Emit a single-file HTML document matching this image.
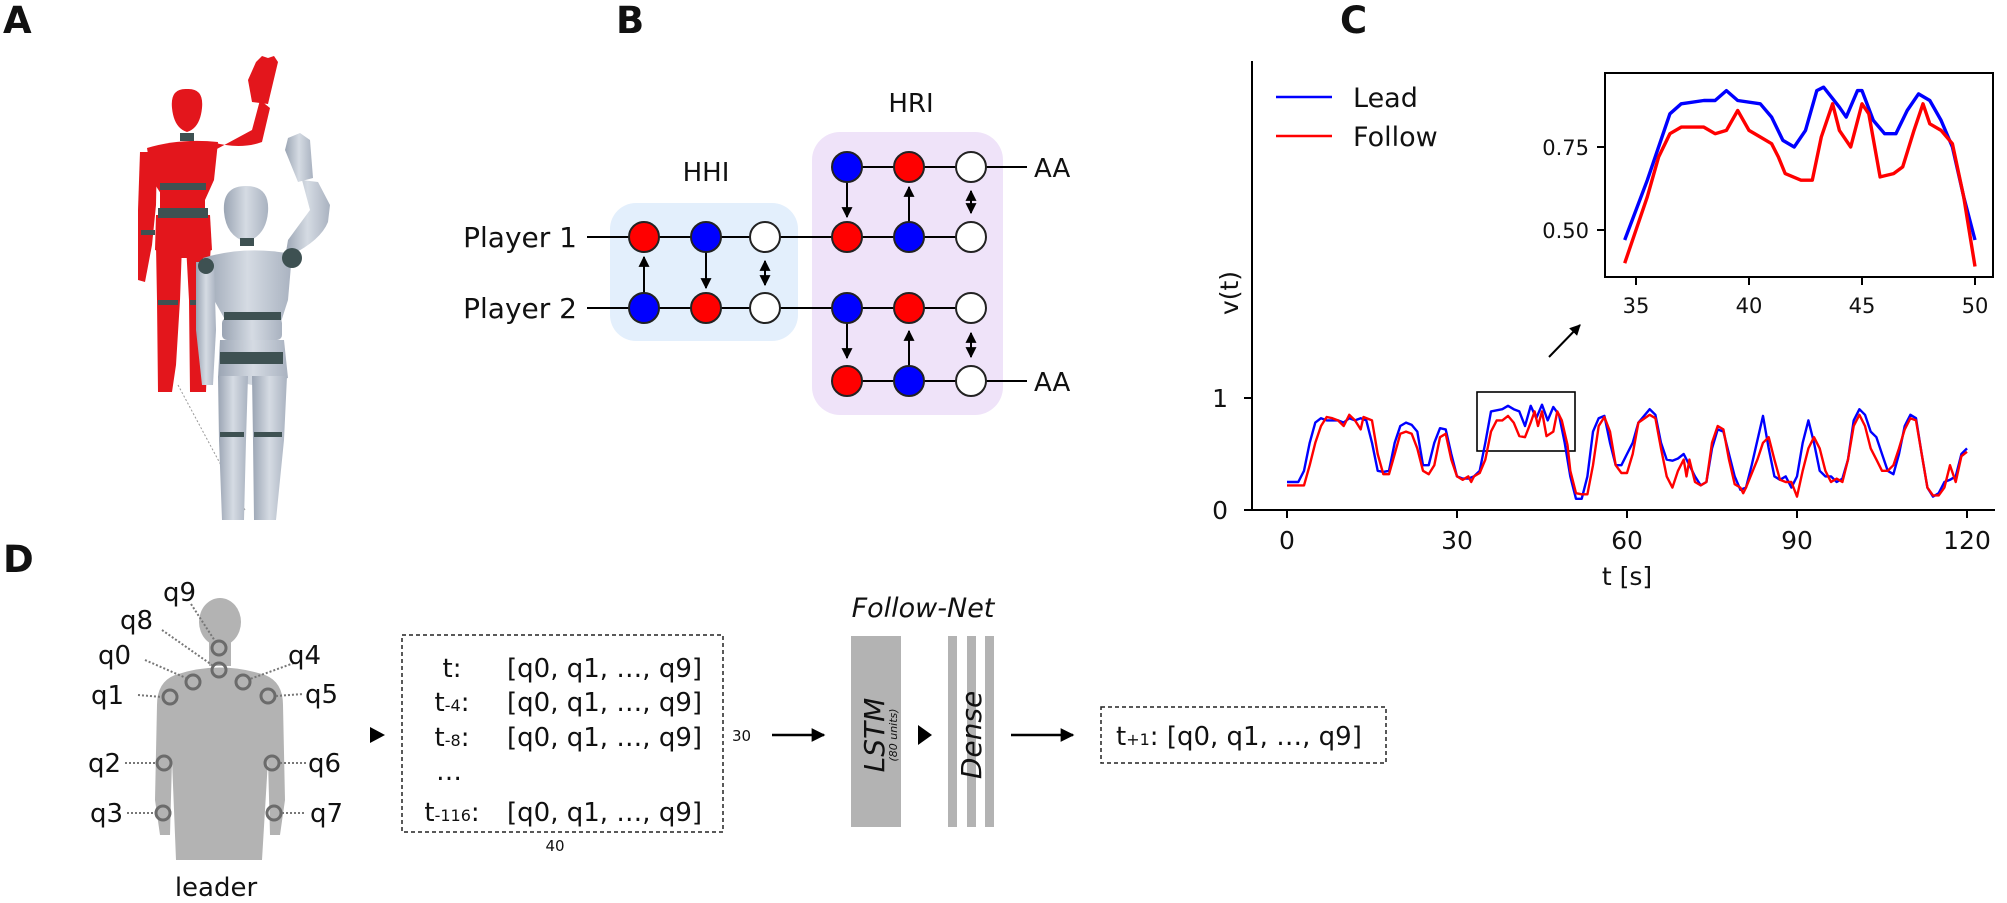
<!DOCTYPE html>
<html><head><meta charset="utf-8"><style>
html,body{margin:0;padding:0;background:#fff;}
svg{display:block;}
text{font-family:"DejaVu Sans","Liberation Sans",sans-serif;fill:#111;}
</style></head><body>
<svg id="s" width="2007" height="903" viewBox="0 0 2007 903" xmlns="http://www.w3.org/2000/svg">
<defs>
<marker id="ah" viewBox="0 0 10 10" refX="9" refY="5" markerWidth="5.5" markerHeight="5.5" orient="auto-start-reverse"><path d="M0,0L10,5L0,10z" fill="#000"/></marker>
<linearGradient id="gg" x1="0" x2="1"><stop offset="0" stop-color="#9aa4b3"/><stop offset="0.5" stop-color="#d5dbe3"/><stop offset="1" stop-color="#a9b2c0"/></linearGradient>
</defs>
<g font-weight="bold" font-size="37">
<text x="3" y="33">A</text>
<text x="616" y="33">B</text>
<text x="1340" y="33">C</text>
<text x="3" y="572">D</text>
</g>

<!-- Panel A figures -->
<g>
<line x1="178" y1="385" x2="245" y2="510" stroke="#999" stroke-dasharray="2,2"/>
<g fill="#e3161c">
<path d="M172,108 Q170,88 187,89 Q204,88 202,108 Q200,128 187,132 Q174,128 172,108Z"/>
<path d="M147,148 Q180,138 218,142 L214,180 L205,200 L165,200 L152,180Z"/>
<rect x="160" y="188" width="45" height="25" rx="4"/>
<path d="M156,215 L210,215 L212,250 L190,258 L180,258 L155,250Z"/>
<path d="M156,245 L182,245 L180,300 L176,365 L172,392 L158,392 L157,300Z"/>
<path d="M186,245 L211,245 L207,300 L207,365 L206,392 L190,392 L189,300Z"/>
<path d="M140,152 L157,152 L156,205 L152,245 L145,282 L138,280 L138,210Z"/>
<path d="M212,142 Q240,150 262,142 L270,108 L260,100 L252,130 L215,150Z"/>
<path d="M252,102 L268,104 L278,62 L274,56 L268,58 L262,56 L256,62 L248,80Z"/>
</g>
<g fill="#3e5152">
<rect x="180" y="133" width="14" height="8"/>
<rect x="160" y="183" width="46" height="7"/>
<rect x="158" y="208" width="50" height="10"/>
<rect x="141" y="230" width="14" height="5"/>
<rect x="158" y="300" width="20" height="5"/><rect x="190" y="300" width="18" height="5"/>
</g>
<g fill="url(#gg)">
<path d="M224,212 Q222,186 246,186 Q270,186 268,212 Q266,236 246,242 Q226,236 224,212Z"/>
<path d="M203,258 Q245,245 292,254 L288,300 L280,325 L228,325 L214,300Z"/>
<rect x="222" y="318" width="60" height="22" rx="5"/>
<path d="M220,340 L284,340 L288,378 L252,385 L218,378Z"/>
<path d="M218,376 L248,376 L246,440 L244,520 L222,520 L219,440Z"/>
<path d="M252,376 L287,376 L284,440 L276,520 L254,520 L253,440Z"/>
<path d="M196,262 L214,262 L216,330 L213,385 L202,385 L196,330Z"/>
<path d="M285,258 Q320,242 328,222 L330,205 L318,182 L302,180 L310,210 L288,240Z"/>
<path d="M298,182 L313,178 L310,140 L300,133 L288,138 L285,150Z"/>
</g>
<g fill="#3e5152">
<rect x="240" y="238" width="14" height="8"/>
<rect x="224" y="312" width="57" height="8"/>
<rect x="220" y="352" width="63" height="12"/>
<circle cx="292" cy="258" r="10"/>
<circle cx="206" cy="266" r="8"/>
<rect x="220" y="432" width="24" height="5"/><rect x="254" y="432" width="28" height="5"/>
</g>
</g>

<!-- Panel B -->
<g>
<rect x="610" y="203" width="188" height="138" rx="26" fill="#e3effc"/>
<rect x="812" y="132" width="191" height="283" rx="28" fill="#efe3f9"/>
<g font-size="26" text-anchor="middle"><text x="706" y="181">HHI</text><text x="911" y="112">HRI</text></g>
<g font-size="28" text-anchor="end"><text x="577" y="247">Player 1</text><text x="577" y="318">Player 2</text></g>
<g stroke="#000" stroke-width="2">
<line x1="587" y1="237" x2="971" y2="237"/>
<line x1="587" y1="308" x2="971" y2="308"/>
<line x1="847" y1="167" x2="1027" y2="167"/>
<line x1="847" y1="381" x2="1027" y2="381"/>
</g>
<g font-size="26"><text x="1034" y="177">AA</text><text x="1034" y="391">AA</text></g>
<g stroke="#000" stroke-width="2" marker-end="url(#ah)">
<line x1="644" y1="293" x2="644" y2="257"/>
<line x1="706" y1="252" x2="706" y2="288"/>
<line x1="847" y1="182" x2="847" y2="217"/>
<line x1="909" y1="222" x2="909" y2="187"/>
<line x1="847" y1="323" x2="847" y2="358"/>
<line x1="909" y1="366" x2="909" y2="331"/>
</g>
<g stroke="#000" stroke-width="2" marker-end="url(#ah)" marker-start="url(#ah)">
<line x1="765" y1="261" x2="765" y2="285"/>
<line x1="971" y1="191" x2="971" y2="213"/>
<line x1="971" y1="333" x2="971" y2="357"/>
</g>
<g stroke="#222" stroke-width="2">
<circle cx="644" cy="237" r="15" fill="#f00"/><circle cx="706" cy="237" r="15" fill="#00f"/><circle cx="765" cy="237" r="15" fill="#fff"/>
<circle cx="644" cy="308" r="15" fill="#00f"/><circle cx="706" cy="308" r="15" fill="#f00"/><circle cx="765" cy="308" r="15" fill="#fff"/>
<circle cx="847" cy="167" r="15" fill="#00f"/><circle cx="909" cy="167" r="15" fill="#f00"/><circle cx="971" cy="167" r="15" fill="#fff"/>
<circle cx="847" cy="237" r="15" fill="#f00"/><circle cx="909" cy="237" r="15" fill="#00f"/><circle cx="971" cy="237" r="15" fill="#fff"/>
<circle cx="847" cy="308" r="15" fill="#00f"/><circle cx="909" cy="308" r="15" fill="#f00"/><circle cx="971" cy="308" r="15" fill="#fff"/>
<circle cx="847" cy="381" r="15" fill="#f00"/><circle cx="909" cy="381" r="15" fill="#00f"/><circle cx="971" cy="381" r="15" fill="#fff"/>
</g>
</g>

<!-- Panel C -->
<g id="pc">
<g stroke="#000" stroke-width="2" fill="none">
<line x1="1252" y1="61" x2="1252" y2="511"/>
<line x1="1251" y1="510" x2="1995" y2="510"/>
<line x1="1244" y1="398" x2="1252" y2="398"/>
<line x1="1244" y1="510" x2="1252" y2="510"/>
<line x1="1287" y1="510" x2="1287" y2="518"/><line x1="1457" y1="510" x2="1457" y2="518"/><line x1="1627" y1="510" x2="1627" y2="518"/><line x1="1797" y1="510" x2="1797" y2="518"/><line x1="1967" y1="510" x2="1967" y2="518"/>
<rect x="1477" y="392" width="98" height="59" stroke-width="1.6"/>
<rect x="1605" y="73" width="388" height="204"/>
<line x1="1597" y1="147" x2="1605" y2="147"/><line x1="1597" y1="230" x2="1605" y2="230"/>
<line x1="1636" y1="277" x2="1636" y2="285"/><line x1="1749" y1="277" x2="1749" y2="285"/><line x1="1862" y1="277" x2="1862" y2="285"/><line x1="1975" y1="277" x2="1975" y2="285"/>
</g>
<line x1="1549" y1="357" x2="1580" y2="325" stroke="#000" stroke-width="2" marker-end="url(#ah)"/>
<g font-size="25" text-anchor="middle">
<text x="1287" y="549">0</text><text x="1457" y="549">30</text><text x="1627" y="549">60</text><text x="1797" y="549">90</text><text x="1967" y="549">120</text>
<text x="1627" y="585">t [s]</text>
<text x="1228" y="407" text-anchor="end">1</text><text x="1228" y="519" text-anchor="end">0</text>
<text transform="translate(1238,293) rotate(-90)">v(t)</text>
</g>
<g font-size="21" text-anchor="middle">
<text x="1636" y="313">35</text><text x="1749" y="313">40</text><text x="1862" y="313">45</text><text x="1975" y="313">50</text>
<text x="1589" y="155" text-anchor="end">0.75</text><text x="1589" y="238" text-anchor="end">0.50</text>
</g>
<line x1="1276" y1="97" x2="1332" y2="97" stroke="#00f" stroke-width="2.5"/>
<line x1="1276" y1="136" x2="1332" y2="136" stroke="#f00" stroke-width="2.5"/>
<g font-size="27"><text x="1353" y="107">Lead</text><text x="1353" y="146">Follow</text></g>
<path id="mL" fill="none" stroke="#00f" stroke-width="2.4" stroke-linejoin="round"/>
<path id="mF" fill="none" stroke="#f00" stroke-width="2.4" stroke-linejoin="round"/>
<path id="iL" fill="none" stroke="#00f" stroke-width="3.4" stroke-linejoin="round"/>
<path id="iF" fill="none" stroke="#f00" stroke-width="3.4" stroke-linejoin="round"/>
</g>

<!-- Panel D -->
<g>
<g fill="#b3b3b3">
<ellipse cx="220" cy="622" rx="21" ry="24"/>
<rect x="209" y="640" width="22" height="26"/>
<path d="M175,675 Q219,660 265,675 Q283,682 283,705 L285,800 L280,835 L270,835 L268,760 L262,860 L176,860 L172,760 L170,835 L160,835 L155,800 L157,705 Q157,682 175,675 Z"/>
</g>
<g fill="none" stroke="#6b6b6b" stroke-width="3">
<circle cx="219" cy="648" r="7"/><circle cx="219" cy="670" r="7"/><circle cx="193" cy="682" r="7"/><circle cx="243" cy="682" r="7"/>
<circle cx="170" cy="697" r="7"/><circle cx="268" cy="696" r="7"/><circle cx="164" cy="763" r="7"/><circle cx="272" cy="763" r="7"/>
<circle cx="163" cy="813" r="7"/><circle cx="274" cy="813" r="7"/>
</g>
<g stroke="#777" stroke-width="2" stroke-dasharray="2,2">
<line x1="191" y1="604" x2="215" y2="641"/><line x1="162" y1="630" x2="212" y2="665"/><line x1="145" y1="660" x2="186" y2="678"/>
<line x1="294" y1="663" x2="250" y2="679"/><line x1="138" y1="695" x2="162" y2="697"/><line x1="276" y1="696" x2="303" y2="694"/>
<line x1="125" y1="763" x2="156" y2="763"/><line x1="280" y1="763" x2="306" y2="763"/>
<line x1="127" y1="813" x2="155" y2="813"/><line x1="282" y1="813" x2="306" y2="813"/>
</g>
<g font-size="26">
<text x="163" y="601">q9</text><text x="120" y="629">q8</text><text x="98" y="664">q0</text><text x="288" y="664">q4</text>
<text x="91" y="704">q1</text><text x="305" y="703">q5</text><text x="88" y="772">q2</text><text x="308" y="772">q6</text>
<text x="90" y="822">q3</text><text x="310" y="822">q7</text>
<text x="216" y="896" text-anchor="middle">leader</text>
</g>
<polygon points="370,727 385,735 370,743" fill="#000"/>
<rect x="402" y="635" width="321" height="197" fill="none" stroke="#222" stroke-width="1.5" stroke-dasharray="4,3"/>
<g font-size="26">
<text x="452" y="677" text-anchor="middle">t:</text>
<text x="452" y="711" text-anchor="middle">t<tspan font-size="16">-4</tspan>:</text>
<text x="452" y="746" text-anchor="middle">t<tspan font-size="16">-8</tspan>:</text>
<text x="449" y="780" text-anchor="middle">…</text>
<text x="452" y="821" text-anchor="middle">t<tspan font-size="16">-116</tspan>:</text>
<text x="507" y="677">[q0, q1, …, q9]</text>
<text x="507" y="711">[q0, q1, …, q9]</text>
<text x="507" y="746">[q0, q1, …, q9]</text>
<text x="507" y="821">[q0, q1, …, q9]</text>
</g>
<g font-size="15"><text x="555" y="851" text-anchor="middle">40</text><text x="732" y="741">30</text></g>
<line x1="772" y1="735" x2="824" y2="735" stroke="#000" stroke-width="2.5" marker-end="url(#ah)"/>
<rect x="851" y="636" width="50" height="191" fill="#b3b3b3"/>
<text transform="translate(884,735) rotate(-90)" font-size="28" font-style="italic" text-anchor="middle">LSTM</text>
<text transform="translate(897,735) rotate(-90)" font-size="11" font-style="italic" text-anchor="middle">(80 units)</text>
<polygon points="918,725 932,735 918,745" fill="#000"/>
<rect x="948" y="636" width="9" height="191" fill="#b3b3b3"/>
<rect x="967" y="636" width="9" height="191" fill="#b3b3b3"/>
<rect x="985" y="636" width="9" height="191" fill="#b3b3b3"/>
<text transform="translate(981,735) rotate(-90)" font-size="28" font-style="italic" text-anchor="middle">Dense</text>
<text x="923" y="617" font-size="27" font-style="italic" text-anchor="middle">Follow-Net</text>
<line x1="1011" y1="735" x2="1073" y2="735" stroke="#000" stroke-width="2.5" marker-end="url(#ah)"/>
<rect x="1101" y="707" width="285" height="56" fill="none" stroke="#222" stroke-width="1.5" stroke-dasharray="4,3"/>
<text x="1116" y="745" font-size="26">t<tspan font-size="16">+1</tspan>:  [q0, q1, …, q9]</text>
</g>
</svg>
<script>
var lead=[0,.25,2,.25,3,.35,4,.6,5,.78,6,.82,7,.8,9,.8,10,.78,11,.82,12,.8,13,.82,14,.8,15,.6,16,.35,17,.34,18,.35,19,.6,20,.75,21,.78,22,.76,23,.7,24,.4,25,.4,26,.6,27,.73,28,.72,29,.5,30,.3,31,.28,32,.28,33,.3,34,.35,35,.6,36,.88,38,.9,39,.93,40,.9,41,.88,42,.75,43,.93,44,.82,45,.94,46,.8,47,.92,48,.85,49,.6,50,.3,51,.1,52,.1,53,.3,54,.7,55,.82,56,.84,57,.6,58,.4,59,.4,60,.5,61,.6,62,.78,64,.9,65,.85,66,.6,67,.45,68,.44,69,.46,70,.5,71,.4,72,.3,73,.22,74,.25,75,.55,76,.72,77,.7,78,.5,79,.3,80,.18,81,.2,82,.4,84,.84,85,.55,86,.3,87,.27,88,.3,89,.2,90,.3,91,.6,92,.8,93,.6,94,.35,95,.3,96,.3,97,.25,98,.28,99,.45,100,.8,101,.9,102,.85,103,.7,104,.65,105,.5,106,.35,107,.32,108,.5,109,.75,110,.85,111,.82,112,.5,113,.2,114,.12,115,.15,116,.25,117,.27,118,.3,119,.5,120,.55];
var fol=[0,.22,3,.22,4,.4,5,.6,6,.75,7,.83,8,.82,9,.8,10,.75,11,.85,12,.8,13,.72,13.5,.83,15,.8,16,.5,17,.32,18,.32,19,.5,20,.68,21,.7,22,.68,23,.55,24,.35,25,.32,26,.4,27,.65,28,.68,29,.45,30,.3,31,.27,32,.3,32.5,.25,33,.3,34,.33,35,.45,36,.7,37,.8,38,.8,39,.84,40,.78,41,.66,42,.65,43,.78,43.7,.88,44.3,.75,45,.88,45.8,.66,47,.7,47.7,.88,48.5,.8,49.5,.58,50,.35,51,.15,52,.14,53,.14,54,.4,55,.75,56,.83,57,.7,58,.4,59,.33,60,.33,61,.5,62,.78,64,.85,65,.82,66,.55,67,.3,68,.2,69,.35,70,.45,70.5,.3,71,.45,72,.25,73,.22,74,.25,75,.6,76,.75,77,.72,78,.45,79,.23,80,.2,80.5,.15,81,.2,83,.45,84,.6,85,.65,86,.45,87,.27,88,.25,89,.25,90,.12,91,.35,92,.55,93,.65,94,.55,95,.35,96,.25,97,.28,98,.25,99,.45,100,.75,101,.85,102,.75,103,.55,104,.45,105,.35,106,.35,107,.4,108,.55,109,.72,110,.82,111,.8,112,.5,113,.2,114,.13,115,.13,116,.2,117,.4,118,.25,119,.48,120,.52];
var il=[34.5,.47,35.5,.65,36.5,.85,37,.88,38,.89,38.5,.89,39,.92,39.5,.89,40.5,.88,41,.84,41.5,.77,42,.75,42.5,.8,43,.92,43.3,.93,44,.87,44.3,.84,44.8,.92,45,.92,45.5,.83,46,.79,46.5,.79,47,.86,47.5,.91,48,.89,48.5,.83,49,.75,49.5,.6,50,.47];
var ifo=[34.5,.40,35,.5,35.5,.6,36,.72,36.5,.79,37,.81,38,.81,38.5,.79,39,.8,39.5,.86,40,.8,40.5,.78,41,.76,41.3,.72,41.6,.67,42.3,.65,42.8,.65,43.2,.78,43.7,.88,44,.8,44.5,.75,45,.88,45.3,.85,45.8,.66,46.4,.67,46.8,.69,47.3,.8,47.7,.88,48,.82,48.5,.8,49,.76,49.5,.6,50,.39];
function p(a,fx,fy){var s='';for(var i=0;i<a.length;i+=2){s+=(i?'L':'M')+fx(a[i]).toFixed(1)+','+fy(a[i+1]).toFixed(1);}return s;}
var mx=function(t){return 1287+5.667*t},my=function(v){return 510-112*v};
var ix=function(t){return 1636+22.6*(t-35)},iy=function(v){return 147-(v-0.75)*332};
document.getElementById('mL').setAttribute('d',p(lead,mx,my));
document.getElementById('mF').setAttribute('d',p(fol,mx,my));
document.getElementById('iL').setAttribute('d',p(il,ix,iy));
document.getElementById('iF').setAttribute('d',p(ifo,ix,iy));
</script>
</body></html>
